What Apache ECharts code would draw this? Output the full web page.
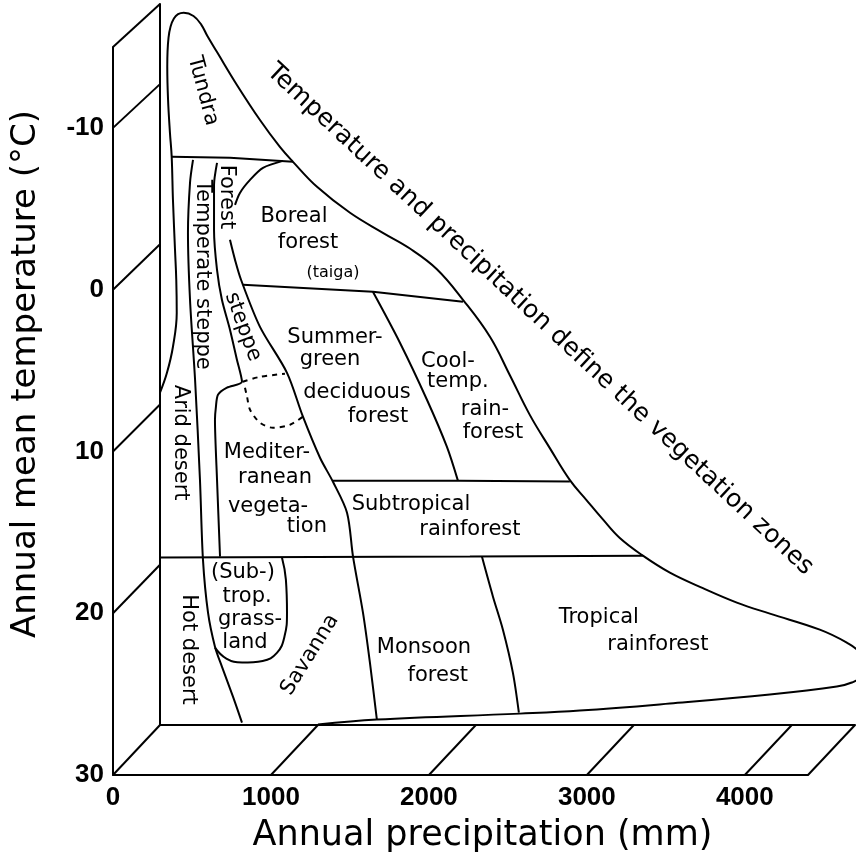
<!DOCTYPE html>
<html>
<head>
<meta charset="utf-8">
<script src="https://cdn.jsdelivr.net/npm/echarts@6/dist/echarts.min.js"></script>
<style>
  html, body { margin: 0; padding: 0; background: #fff; }
  #chart { width: 865px; height: 862px; }
</style>
</head>
<body>
<div id="chart"></div>
<script>
// ---- axes ----
const precipTicks = [0, 1000, 2000, 3000, 4000];
const tempTicks = [-10, 0, 10, 20, 30];
const precipRange = [0, 4400];
const tempRange = [-15, 30];

// ---- zone boundaries: [annual precipitation (mm), annual mean temperature (°C)] ----
const outerBoundary = [
  [0, 9.26], [44, 8.02], [82, 6.39], [106, 4.27], [103, 2.21], [95, 0.34], [82, -2.78],
  [74, -5.46], [63, -6.96], [51, -9.02], [46, -11.07], [54, -12.9], [88, -14.1],
  [150, -14.45], [212, -14.25], [262, -13.7], [300, -13.0], [361, -12.0],
  [487, -9.95], [633, -7.76], [759, -6.08], [842, -5.15], [994, -3.59], [1203, -1.97],
  [1411, -0.72], [1582, 0.26], [1753, 1.55], [1918, 3.46], [2089, 5.77], [2215, 8.17],
  [2342, 10.66], [2468, 12.72], [2595, 14.72], [2700, 15.96], [2804, 17.17], [2911, 18.33],
  [3057, 19.43], [3228, 20.49], [3437, 21.46], [3652, 22.36], [3861, 23.05], [4177, 24.05],
  [4348, 24.86], [4430, 25.48], [4456, 26.29], [4437, 26.98], [4380, 27.35], [4285, 27.6],
  [3861, 28.1], [3228, 28.66], [2658, 29.1], [2278, 29.29], [1373, 29.66], [1000, 29.97]
];
const tundraLimit = [[74, -5.46], [443, -5.4], [842, -5.15]];
const desertLimit = [
  [209, -5.27], [190, -3.84], [177, -0.72], [190, 3.46], [222, 8.45], [253, 14.69],
  [272, 19.68], [304, 22.99], [348, 25.11], [392, 26.36], [462, 28.23], [519, 29.85]
];
const steppeMediterraneanLimit = [
  [361, -5.08], [342, -3.71], [342, -0.90], [361, 1.59], [392, 3.46], [443, 5.33],
  [487, 7.20], [519, 8.58], [424, 8.95], [367, 9.39], [354, 10.14], [348, 10.95],
  [361, 14.69], [380, 19.49]
];
const borealArc = [[778, -5.21], [652, -4.77], [570, -4.02], [506, -3.21], [475, -2.46]];
const forestSteppeSavannaLimit = [
  [443, -0.28], [475, 0.97], [513, 2.21], [633, 5.15], [804, 8.02], [905, 10.76],
  [1013, 13.32], [1095, 14.82], [1184, 16.75], [1222, 19.49], [1285, 22.99],
  [1329, 26.11], [1373, 29.66]
];
const borealLimit = [[525, 2.52], [1348, 2.96], [1918, 3.59]];
const subtropicalTop = [[1095, 14.76], [1899, 14.76], [2595, 14.80]];
const tropicalTop = [[0, 19.55], [1962, 19.49], [3057, 19.43]];
const coolTempLimit = [[1348, 2.96], [1519, 6.14], [1690, 9.70], [1816, 12.63], [1886, 14.75]];
const monsoonLimit = [[2038, 19.49], [2108, 21.99], [2171, 24.05], [2234, 26.73], [2272, 29.23]];
const grasslandLimit = [
  [772, 19.55], [797, 20.93], [804, 22.99], [788, 24.48], [740, 25.5],
  [650, 26.0], [520, 26.1], [420, 25.85], [348, 25.17]
];
const mediterraneanDashTop = [[525, 8.58], [633, 8.27], [791, 8.08]];
const mediterraneanDashLoop = [
  [538, 8.95], [551, 9.51], [570, 10.32], [633, 11.13], [715, 11.45], [823, 11.26], [905, 10.76]
];

// ---- zone names: [precipitation, temperature, text] ----
const zoneLabels = [
  [272, -9.58, 'Tundra'],
  [266, 1.90, 'Temperate steppe'],
  [418, -2.96, 'Forest'],
  [525, 5.15, 'steppe'],
  [127, 12.38, 'Arid desert'],
  [177, 25.29, 'Hot desert'],
  [848, -1.72, 'Boreal'],
  [937, -0.09, 'forest'],
  [1095, 1.78, '(taiga)'],
  [1108, 5.83, 'Summer-'],
  [1076, 7.20, 'green'],
  [1247, 9.26, 'deciduous'],
  [1380, 10.76, 'forest'],
  [1823, 7.33, 'Cool-'],
  [1886, 8.58, 'temp.'],
  [2057, 10.32, 'rain-'],
  [2108, 11.76, 'forest'],
  [677, 13.0, 'Mediter-'],
  [728, 14.57, 'ranean'],
  [684, 16.38, 'vegeta-'],
  [930, 17.62, 'tion'],
  [1589, 16.25, 'Subtropical'],
  [1962, 17.81, 'rainforest'],
  [525, 20.49, '(Sub-)'],
  [551, 21.99, 'trop.'],
  [570, 23.42, 'grass-'],
  [538, 24.86, 'land'],
  [949, 25.61, 'Savanna'],
  [1671, 25.17, 'Monsoon'],
  [1759, 26.92, 'forest'],
  [2778, 23.30, 'Tropical'],
  [3152, 24.98, 'rainforest'],
  [2405, 4.7, 'Temperature and precipitation define the vegetation zones']
];

// text rotation (degrees) and size for particular labels, by index
const labelRotation = { 0: -75, 1: -90, 2: -90, 3: -70, 4: -90, 5: -90, 27: 58, 32: -43 };
const labelSize = { 8: 16, 32: 25 };

const INK = '#000';
const chart = echarts.init(document.getElementById('chart'));

function boundary(data, opts) {
  return Object.assign({
    type: 'line', xAxisIndex: 1, yAxisIndex: 1, data: data,
    symbol: 'none', clip: false, silent: true, smooth: 0.3,
    lineStyle: { color: INK, width: 2 }, z: 3
  }, opts || {});
}

const tickFont = {
  color: INK, fontSize: 26, fontWeight: 'bold',
  fontFamily: '"Liberation Sans", Arial, sans-serif',
  formatter: v => String(v)
};

chart.setOption({
  backgroundColor: '#fff',
  animation: false,
  grid: [
    { left: 113, top: 47, width: 695, height: 728, outerBoundsMode: 'none' },
    { left: 160, top: 4, width: 695, height: 721, outerBoundsMode: 'none' }
  ],
  xAxis: [
    {
      gridIndex: 0, type: 'value', min: precipRange[0], max: precipRange[1],
      axisLine: { onZero: false, lineStyle: { color: INK, width: 2 } },
      axisTick: { show: false }, splitLine: { show: false },
      axisLabel: Object.assign({ customValues: precipTicks, margin: 10 }, tickFont),
      name: 'Annual precipitation (mm)', nameLocation: 'middle', nameGap: 43,
      nameTextStyle: { padding: [0, 0, 0, 44], color: INK, fontSize: 35, fontFamily: '"DejaVu Sans", sans-serif' }
    },
    {
      gridIndex: 1, type: 'value', min: precipRange[0], max: precipRange[1],
      axisLine: { onZero: false, lineStyle: { color: INK, width: 2 } },
      axisTick: { show: false }, splitLine: { show: false }, axisLabel: { show: false }
    }
  ],
  yAxis: [
    {
      gridIndex: 0, type: 'value', inverse: true, min: tempRange[0], max: tempRange[1],
      axisLine: { onZero: false, lineStyle: { color: INK, width: 2 } },
      axisTick: { show: false }, splitLine: { show: false },
      axisLabel: Object.assign({ customValues: tempTicks, margin: 9 }, tickFont),
      name: 'Annual mean temperature (°C)', nameLocation: 'middle', nameGap: 70,
      nameTextStyle: { padding: [0, 0, 0, 74], color: INK, fontSize: 34, fontFamily: '"DejaVu Sans", sans-serif' }
    },
    {
      gridIndex: 1, type: 'value', inverse: true, min: tempRange[0], max: tempRange[1],
      axisLine: { onZero: false, lineStyle: { color: INK, width: 2 } },
      axisTick: { show: false }, splitLine: { show: false }, axisLabel: { show: false }
    }
  ],
  series: [
    boundary(outerBoundary, { smooth: 0.4 }),
    boundary(tundraLimit, { smooth: false }),
    boundary(desertLimit),
    boundary(steppeMediterraneanLimit, { smooth: 0.25 }),
    boundary(borealArc),
    boundary(forestSteppeSavannaLimit),
    boundary(borealLimit, { smooth: false }),
    boundary(subtropicalTop, { smooth: false }),
    boundary(tropicalTop, { smooth: false }),
    boundary(coolTempLimit),
    boundary(monsoonLimit),
    boundary(grasslandLimit, { smooth: 0.45 }),
    boundary(mediterraneanDashTop, { lineStyle: { color: INK, width: 2, type: [5, 5] } }),
    boundary(mediterraneanDashLoop, { lineStyle: { color: INK, width: 2, type: [5, 5] } }),
    {
      type: 'custom', xAxisIndex: 1, yAxisIndex: 1, silent: true, z: 5,
      data: zoneLabels.map(l => [l[0], l[1]]),
      renderItem: (params, api) => {
        const i = params.dataIndex;
        const pt = api.coord([api.value(0), api.value(1)]);
        const size = labelSize[i] || 21;
        return {
          type: 'text', x: pt[0], y: pt[1],
          rotation: (labelRotation[i] || 0) * Math.PI / 180,
          style: {
            text: zoneLabels[i][2], fill: INK, align: 'center', verticalAlign: 'middle',
            font: size + 'px "DejaVu Sans", sans-serif'
          }
        };
      }
    }
  ]
});

// Depth edges of the box: join each front tick to the same value on the back plane
const wallTemps = [tempRange[0]].concat(tempTicks);
const floorPrecips = precipTicks.slice(1).concat([precipRange[1]]);
const edges = [];
wallTemps.forEach(t => edges.push([precipRange[0], t]));
floorPrecips.forEach(p => edges.push([p, tempRange[1]]));

chart.setOption({
  graphic: edges.map(v => {
    const a = chart.convertToPixel({ gridIndex: 0 }, v);
    const b = chart.convertToPixel({ gridIndex: 1 }, v);
    return {
      type: 'line', silent: true, z: 2,
      shape: { x1: a[0], y1: a[1], x2: b[0], y2: b[1] },
      style: { stroke: INK, lineWidth: 2 }
    };
  })
});
</script>
</body>
</html>
